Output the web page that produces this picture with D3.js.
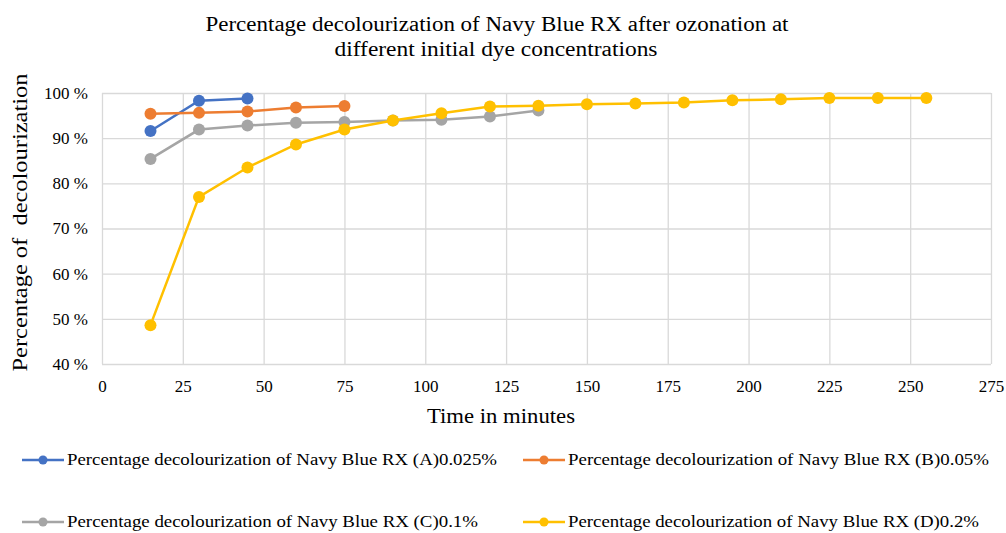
<!DOCTYPE html>
<html>
<head>
<meta charset="utf-8">
<script src="https://cdn.jsdelivr.net/npm/d3@7"></script>
<style>
  html, body { margin: 0; padding: 0; background: #fff; overflow: hidden; }
  svg { display: block; }
  text { font-family: "Liberation Serif", "Times New Roman", serif; fill: #000; }
</style>
</head>
<body>
<svg id="chart" width="1006" height="533"></svg>
<script>
const seriesNames = [
    'Percentage decolourization of Navy Blue RX (A)0.025%',
    'Percentage decolourization of Navy Blue RX (B)0.05%',
    'Percentage decolourization of Navy Blue RX (C)0.1%',
    'Percentage decolourization of Navy Blue RX (D)0.2%'
];
const seriesColors = ['#4472C4', '#ED7D31', '#A5A5A5', '#FFC000'];
const timeA = [15, 30, 45];
const valA = [91.6, 98.3, 98.8];
const timeB = [15, 30, 45, 60, 75];
const valB = [95.4, 95.6, 95.9, 96.8, 97.1];
const timeC = [15, 30, 45, 60, 75, 90, 105, 120, 135];
const valC = [85.4, 91.9, 92.8, 93.4, 93.6, 93.9, 94.1, 94.8, 96.1];
const timeD = [15, 30, 45, 60, 75, 90, 105, 120, 135, 150, 165, 180, 195, 210, 225, 240, 255];
const valD = [48.6, 77.0, 83.5, 88.6, 91.9, 93.9, 95.5, 97.0, 97.2, 97.5, 97.7, 97.9, 98.4, 98.6, 98.9, 98.9, 98.9];
const xTicks = [0, 25, 50, 75, 100, 125, 150, 175, 200, 225, 250, 275];
const yTicks = [40, 50, 60, 70, 80, 90, 100];

const series = [[timeA, valA], [timeB, valB], [timeC, valC], [timeD, valD]]
    .map((s, i) => ({ name: seriesNames[i], color: seriesColors[i], pts: s[0].map((t, j) => ({ t: t, v: s[1][j] })) }));

const margin = { left: 102, top: 93 };
const svg = d3.select('#chart');
const innerWidth = 991 - margin.left;
const innerHeight = 364 - margin.top;

const xScale = d3.scaleLinear().domain([0, 275]).range([0, innerWidth]);
const yScale = d3.scaleLinear().domain([40, 100]).range([innerHeight, 0]);

// title (two lines)
svg.append('text')
    .attr('x', 497).attr('y', 31)
    .attr('text-anchor', 'middle')
    .attr('textLength', 583).attr('lengthAdjust', 'spacingAndGlyphs')
    .style('font-size', '20px')
    .text('Percentage decolourization of Navy Blue RX after ozonation at');
svg.append('text')
    .attr('x', 496).attr('y', 56)
    .attr('text-anchor', 'middle')
    .attr('textLength', 323).attr('lengthAdjust', 'spacingAndGlyphs')
    .style('font-size', '20px')
    .text('different initial dye concentrations');

const g = svg.append('g').attr('transform', `translate(${margin.left},${margin.top})`);

// gridlines
g.append('g')
    .call(d3.axisLeft(yScale).tickValues(yTicks).tickSize(-innerWidth).tickFormat(''))
    .call(a => a.select('.domain').remove())
    .call(a => a.selectAll('text').remove())
    .selectAll('line').attr('stroke', '#d9d9d9').attr('stroke-width', 1.3);
g.append('g')
    .attr('transform', `translate(0,${innerHeight})`)
    .call(d3.axisBottom(xScale).tickValues(xTicks).tickSize(-innerHeight).tickFormat(''))
    .call(a => a.select('.domain').remove())
    .call(a => a.selectAll('text').remove())
    .selectAll('line').attr('stroke', '#d9d9d9').attr('stroke-width', 1.3);

// tick labels
const yAxis = g.append('g')
    .call(d3.axisLeft(yScale).tickValues(yTicks).tickSize(0).tickPadding(14).tickFormat(d => d + ' %'));
yAxis.select('.domain').remove();
yAxis.attr('font-family', null);
yAxis.selectAll('text').style('font-size', '17px');

const xAxis = g.append('g')
    .attr('transform', `translate(0,${innerHeight})`)
    .call(d3.axisBottom(xScale).tickValues(xTicks).tickSize(0).tickPadding(16));
xAxis.select('.domain').remove();
xAxis.attr('font-family', null);
xAxis.selectAll('text').style('font-size', '17px');

// axis titles
svg.append('text')
    .attr('transform', `translate(27,${margin.top + innerHeight / 2 - 6}) rotate(-90)`)
    .attr('text-anchor', 'middle')
    .attr('textLength', 298).attr('lengthAdjust', 'spacingAndGlyphs')
    .style('font-size', '22px')
    .text('Percentage of\u00a0 decolourization');
svg.append('text')
    .attr('x', 501).attr('y', 423)
    .attr('text-anchor', 'middle')
    .attr('textLength', 148).attr('lengthAdjust', 'spacingAndGlyphs')
    .style('font-size', '21px')
    .text('Time in minutes');

// lines and markers
const line = d3.line().x(d => xScale(d.t)).y(d => yScale(d.v));
series.forEach(s => {
    g.append('path')
        .datum(s.pts)
        .attr('d', line)
        .attr('fill', 'none')
        .attr('stroke', s.color)
        .attr('stroke-width', 2.5);
    g.selectAll(null)
        .data(s.pts)
        .join('circle')
        .attr('cx', d => xScale(d.t))
        .attr('cy', d => yScale(d.v))
        .attr('r', 6)
        .attr('fill', s.color);
});

// legend: [line start x, baseline y, text width]
const legendPos = [[22, 465, 430], [523, 465, 421], [22, 527, 411], [523, 527, 411]];
series.forEach((s, i) => {
    const [lx, ly, tl] = legendPos[i];
    const lg = svg.append('g').attr('transform', `translate(${lx},${ly})`);
    lg.append('line').attr('x1', 0).attr('x2', 42).attr('y1', -5).attr('y2', -5)
        .attr('stroke', s.color).attr('stroke-width', 2.5);
    lg.append('circle').attr('cx', 21).attr('cy', -5).attr('r', 4.5).attr('fill', s.color);
    lg.append('text')
        .attr('x', 45).attr('y', 0)
        .attr('textLength', tl)
        .attr('lengthAdjust', 'spacingAndGlyphs')
        .style('font-size', '16px')
        .text(s.name);
});
</script>
</body>
</html>
